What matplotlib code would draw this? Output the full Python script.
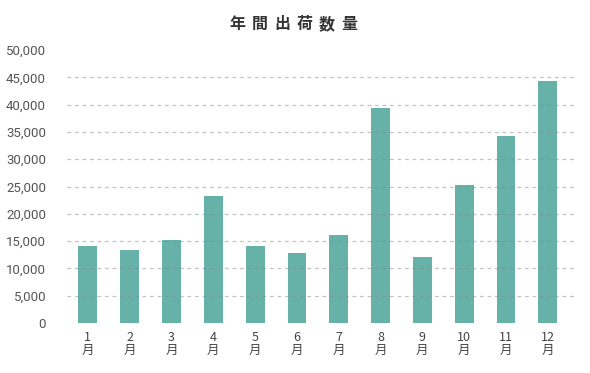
import numpy as np
import matplotlib.pyplot as plt
from matplotlib.ticker import FuncFormatter

plt.rcParams['font.family'] = ['Noto Sans CJK JP', 'DejaVu Sans']

# データ
months = ["1\n月", "2\n月", "3\n月", "4\n月", "5\n月", "6\n月",
          "7\n月", "8\n月", "9\n月", "10\n月", "11\n月", "12\n月"]
values = [14100, 13400, 15200, 23250, 14100, 12800,
          16100, 39400, 12100, 25300, 34250, 44300]
title_chars = list("年間出荷数量")

fig = plt.figure(figsize=(5.9, 3.73), dpi=100)
ax = fig.add_axes([67/590, 1 - 323/373, 510/590, 273/373])

x = np.arange(len(values))
ax.bar(x, values, width=0.45, color='#66b2a8', zorder=1)

ax.set_ylim(0, 50000)
ax.set_xlim(-0.5, 11.7)
ax.set_yticks(np.arange(0, 50001, 5000))
ax.yaxis.set_major_formatter(FuncFormatter(lambda v, p: "{:,}".format(int(v))))
ax.set_xticks(x)
ax.set_xticklabels(months, linespacing=0.95)

for v in np.arange(5000, 45001, 5000):
    ax.axhline(v, color='#888888', alpha=0.5, lw=0.9, ls=(0, (3, 3)), zorder=2)

for s in ax.spines.values():
    s.set_visible(False)
ax.tick_params(axis='both', length=0, colors='#444444', labelsize=9)
ax.tick_params(axis='y', pad=15, labelsize=9.5)
ax.tick_params(axis='x', pad=6)
for lbl in ax.get_yticklabels():
    lbl.set_fontfamily(['Roboto', 'DejaVu Sans'])
    lbl.set_color('#555555')

# タイトル(文字間隔を広めに)
for i, ch in enumerate(title_chars):
    fig.text((237 + i * 22.5) / 590, 1 - 24 / 373, ch, ha='center', va='center',
             fontsize=11.5, fontweight='bold', color='#333333')

fig.savefig('out.png', dpi=100)
